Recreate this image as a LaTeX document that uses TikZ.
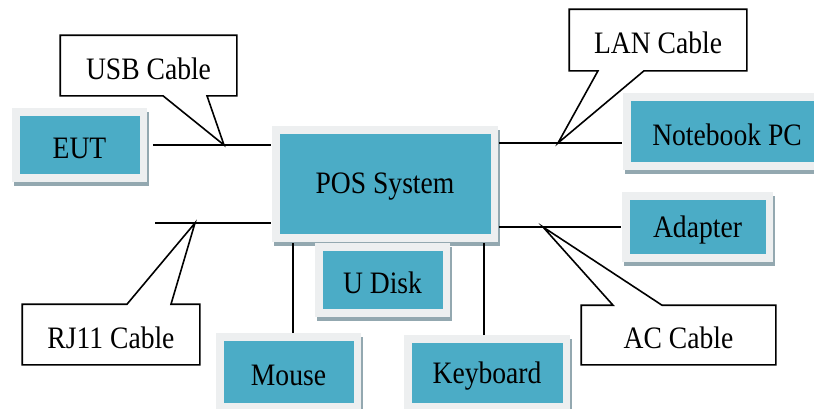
\documentclass[tikz,border=0pt]{standalone}
\usepackage{fontspec}
\usepackage{graphicx}
\setmainfont{Liberation Serif}
\usetikzlibrary{positioning,shadows,calc}
\definecolor{devfill}{HTML}{4BACC6}
\definecolor{devrim}{HTML}{EDEFF0}
\definecolor{devshade}{HTML}{93A8B0}
\newcommand{\lbl}[1]{\raisebox{-1.5pt}[\height][\depth]{\scalebox{1}[1.13]{#1}}}

\begin{document}
\begin{tikzpicture}[x=0.5pt,y=-0.5pt,line width=0.8pt,
  every node/.style={font=\fontsize{13.8}{16}\selectfont},
  dev/.style={fill=devrim,inner sep=0pt,
    drop shadow={shadow xshift=1pt,shadow yshift=-2pt,fill=devshade,opacity=1},
    path picture={\fill[devfill] ($(path picture bounding box.south west)+(3.75pt,4pt)$)
      rectangle ($(path picture bounding box.north east)-(3.75pt,4pt)$);}},
  cable/.style={inner sep=0pt}]
  \useasboundingbox (0,0) rectangle (814,408);
  % devices
  \node[dev,minimum width=113pt,minimum height=58pt] (pos) at (385,184) {\lbl{POS System}};
  \node[dev,minimum width=67.5pt,minimum height=37pt] (eut) at (79.5,145) {\lbl{EUT}};
  \node[dev,minimum width=104pt,minimum height=38.5pt] (nb) at (727,131.5) {\lbl{Notebook PC}};
  \node[dev,minimum width=75.5pt,minimum height=35pt] (adapter) at (697.5,227) {\lbl{Adapter}};
  \node[dev,minimum width=67.5pt,minimum height=37pt] (udisk) at (382.5,280) {\lbl{U Disk}};
  \node[dev,minimum width=72.5pt,minimum height=39pt] (mouse) at (288.5,372) {\lbl{Mouse}};
  \node[dev,minimum width=83pt,minimum height=38pt] (kb) at (487,373) {\lbl{Keyboard}};
  % cables
  \coordinate (usbtip) at (224,145); \coordinate (lantip) at (558,143);
  \coordinate (rjtip) at (195,223); \coordinate (actip) at (543,227);
  \coordinate (rjend) at (155,223);
  \coordinate (mtop) at (293,333); \coordinate (ktop) at (484,335);
  \draw ([xshift=2.5pt]eut.east) -- (eut.east -| pos.west);
  \draw (rjend) -- (rjend -| pos.west);
  \draw (pos.east |- lantip) -- (lantip -| nb.west);
  \draw (pos.east |- adapter.west) -- (adapter.west);
  \draw (mtop) -- (mtop |- pos.south);
  \draw (ktop) -- (ktop |- pos.south);
  % callouts
  \node[cable,minimum width=87.5pt,minimum height=29.5pt] (usb) at (148.5,65.5) {\lbl{USB Cable}};
  \node[cable,minimum width=88pt,minimum height=30pt] (lan) at (658,40) {\lbl{LAN Cable}};
  \node[cable,minimum width=88pt,minimum height=29.5pt] (rj) at (111,334.5) {\lbl{RJ11 Cable}};
  \node[cable,minimum width=96.5pt,minimum height=29pt] (ac) at (678.5,335) {\lbl{AC Cable}};
  \draw (usb.north west) -- (usb.north east) -- (usb.south east) -- ($(usb.south)+(58.5,0)$)
    -- (usbtip) -- ($(usb.south)+(14.5,0)$) -- (usb.south west) -- cycle;
  \draw (lan.north west) -- (lan.north east) -- (lan.south east) -- ($(lan.south)+(-14,0)$)
    -- (lantip) -- ($(lan.south)+(-60,0)$) -- (lan.south west) -- cycle;
  \draw (rj.south west) -- (rj.south east) -- (rj.north east) -- ($(rj.north)+(60,0)$)
    -- (rjtip) -- ($(rj.north)+(16,0)$) -- (rj.north west) -- cycle;
  \draw (ac.south west) -- (ac.south east) -- (ac.north east) -- ($(ac.north)+(-16.5,0)$)
    -- (actip) -- ($(ac.north)+(-65.5,0)$) -- (ac.north west) -- cycle;
\end{tikzpicture}
\end{document}
